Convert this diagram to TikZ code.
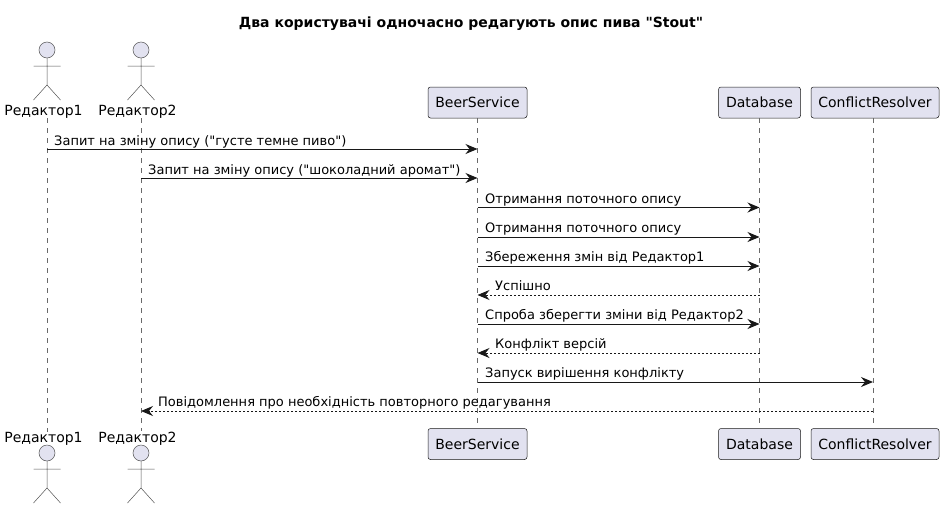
\documentclass[tikz,border=0pt]{standalone}
\usepackage{fontspec}
\setmainfont{DejaVu Sans}[Ligatures=TeXOff]
\usetikzlibrary{arrows.meta}
\definecolor{lilac}{HTML}{E2E2F0}
\definecolor{ink}{HTML}{181818}
\newcommand{\msgsize}{\fontsize{13}{15}\selectfont}
\newcommand{\partsize}{\fontsize{14}{16}\selectfont}
\tikzset{
  partbox/.style={draw=ink, fill=lilac, line width=.5pt, rounded corners=2.5pt, minimum height=31pt, inner sep=0pt, font=\partsize},
  partname/.style={inner sep=0pt, font=\partsize, text=black, anchor=base},
  life/.style={draw=ink!65, line width=.5pt, dash pattern=on 5pt off 5pt},
  limb/.style={draw=ink!75, line width=.5pt},
  msg/.style={draw=ink, line width=1pt, -{Stealth[length=12pt,width=10pt,inset=4pt]}},
  back/.style={msg, dash pattern=on 2pt off 2pt},
  msgtext/.style={inner sep=0pt, font=\msgsize, text=black, anchor=base west}
}
\begin{document}
\begin{tikzpicture}[x=1pt,y=-1pt]
      \useasboundingbox (0,0) rectangle (943,509);

          %%  title %%
      \node (title) at (471,23.5) [inner sep=0pt, font=\partsize\bfseries] {Два користувачі одночасно редагують опис пива "Stout"};

          %%  stick figures, top and bottom %%
      \foreach \n/\x in {1/47,2/141}
      { \coordinate (line\n) at (\x,0);
        \node (topname\n) at (\x-3.5,115) [partname] {Редактор\n};
        \node (botname\n) at (\x-3.5,442) [partname] {Редактор\n};
        \draw[limb, fill=lilac] (\x,50) circle (8);
        \draw[limb] (\x,58) -- (\x,85) (\x-13.5,66) -- (\x+13.5,66) (\x-13.5,100) -- (\x,85) -- (\x+13.5,100);
        \draw[limb, fill=lilac] (\x,453) circle (8);
        \draw[limb] (\x,461) -- (\x,488) (\x-13.5,469) -- (\x+13.5,469) (\x-13.5,503) -- (\x,488) -- (\x+13.5,503);
        \draw[life] (line\n |- topname\n.south) -- (line\n |- botname\n.north);
      }

          %%  boxes %%
      \foreach \n/\x/\w/\t in {beer/477.5/99/BeerService, base/759.5/82/Database, res/875/128/ConflictResolver}
      { \node (top\n) at (\x,102.5) [partbox, minimum width=\w pt] {\t};
        \node (bot\n) at (\x,444) [partbox, minimum width=\w pt] {\t};
      }
      \coordinate (lineres) at (873,0);
      \draw[life] (topbeer) -- (botbeer);
      \draw[life] (topbase) -- (botbase);
      \draw[life] (lineres |- topres.south) -- (lineres |- botres.north);

      \foreach \r/\y in {1/149,2/178,3/207.5,4/237,5/266,6/295,7/324,8/353,9/382,10/411}
      { \coordinate (row\r) at (0,\y); }

          %%  messages %%
      \draw[msg] (line1 |- row1) -- (topbeer |- row1);
      \node (m1) at (54,145) [msgtext] {Запит на зміну опису ("густе темне пиво")};
      \draw[msg] (line2 |- row2) -- (topbeer |- row2);
      \node (m2) at (148,174) [msgtext] {Запит на зміну опису ("шоколадний аромат")};
      \draw[msg] (topbeer |- row3) -- (topbase |- row3);
      \node (m3) at (485,203.5) [msgtext] {Отримання поточного опису};
      \draw[msg] (topbeer |- row4) -- (topbase |- row4);
      \node (m4) at (485,232.5) [msgtext] {Отримання поточного опису};
      \draw[msg] (topbeer |- row5) -- (topbase |- row5);
      \node (m5) at (485,261.5) [msgtext] {Збереження змін від Редактор1};
      \draw[back] (topbase |- row6) -- (topbeer |- row6);
      \node (m6) at (495,290.5) [msgtext] {Успішно};
      \draw[msg] (topbeer |- row7) -- (topbase |- row7);
      \node (m7) at (485,319.5) [msgtext] {Спроба зберегти зміни від Редактор2};
      \draw[back] (topbase |- row8) -- (topbeer |- row8);
      \node (m8) at (495,348.5) [msgtext] {Конфлікт версій};
      \draw[msg] (topbeer |- row9) -- (lineres |- row9);
      \node (m9) at (485,377.5) [msgtext] {Запуск вирішення конфлікту};
      \draw[back] (lineres |- row10) -- (line2 |- row10);
      \node (m10) at (158,406.5) [msgtext] {Повідомлення про необхідність повторного редагування};

\end{tikzpicture}
\end{document}
